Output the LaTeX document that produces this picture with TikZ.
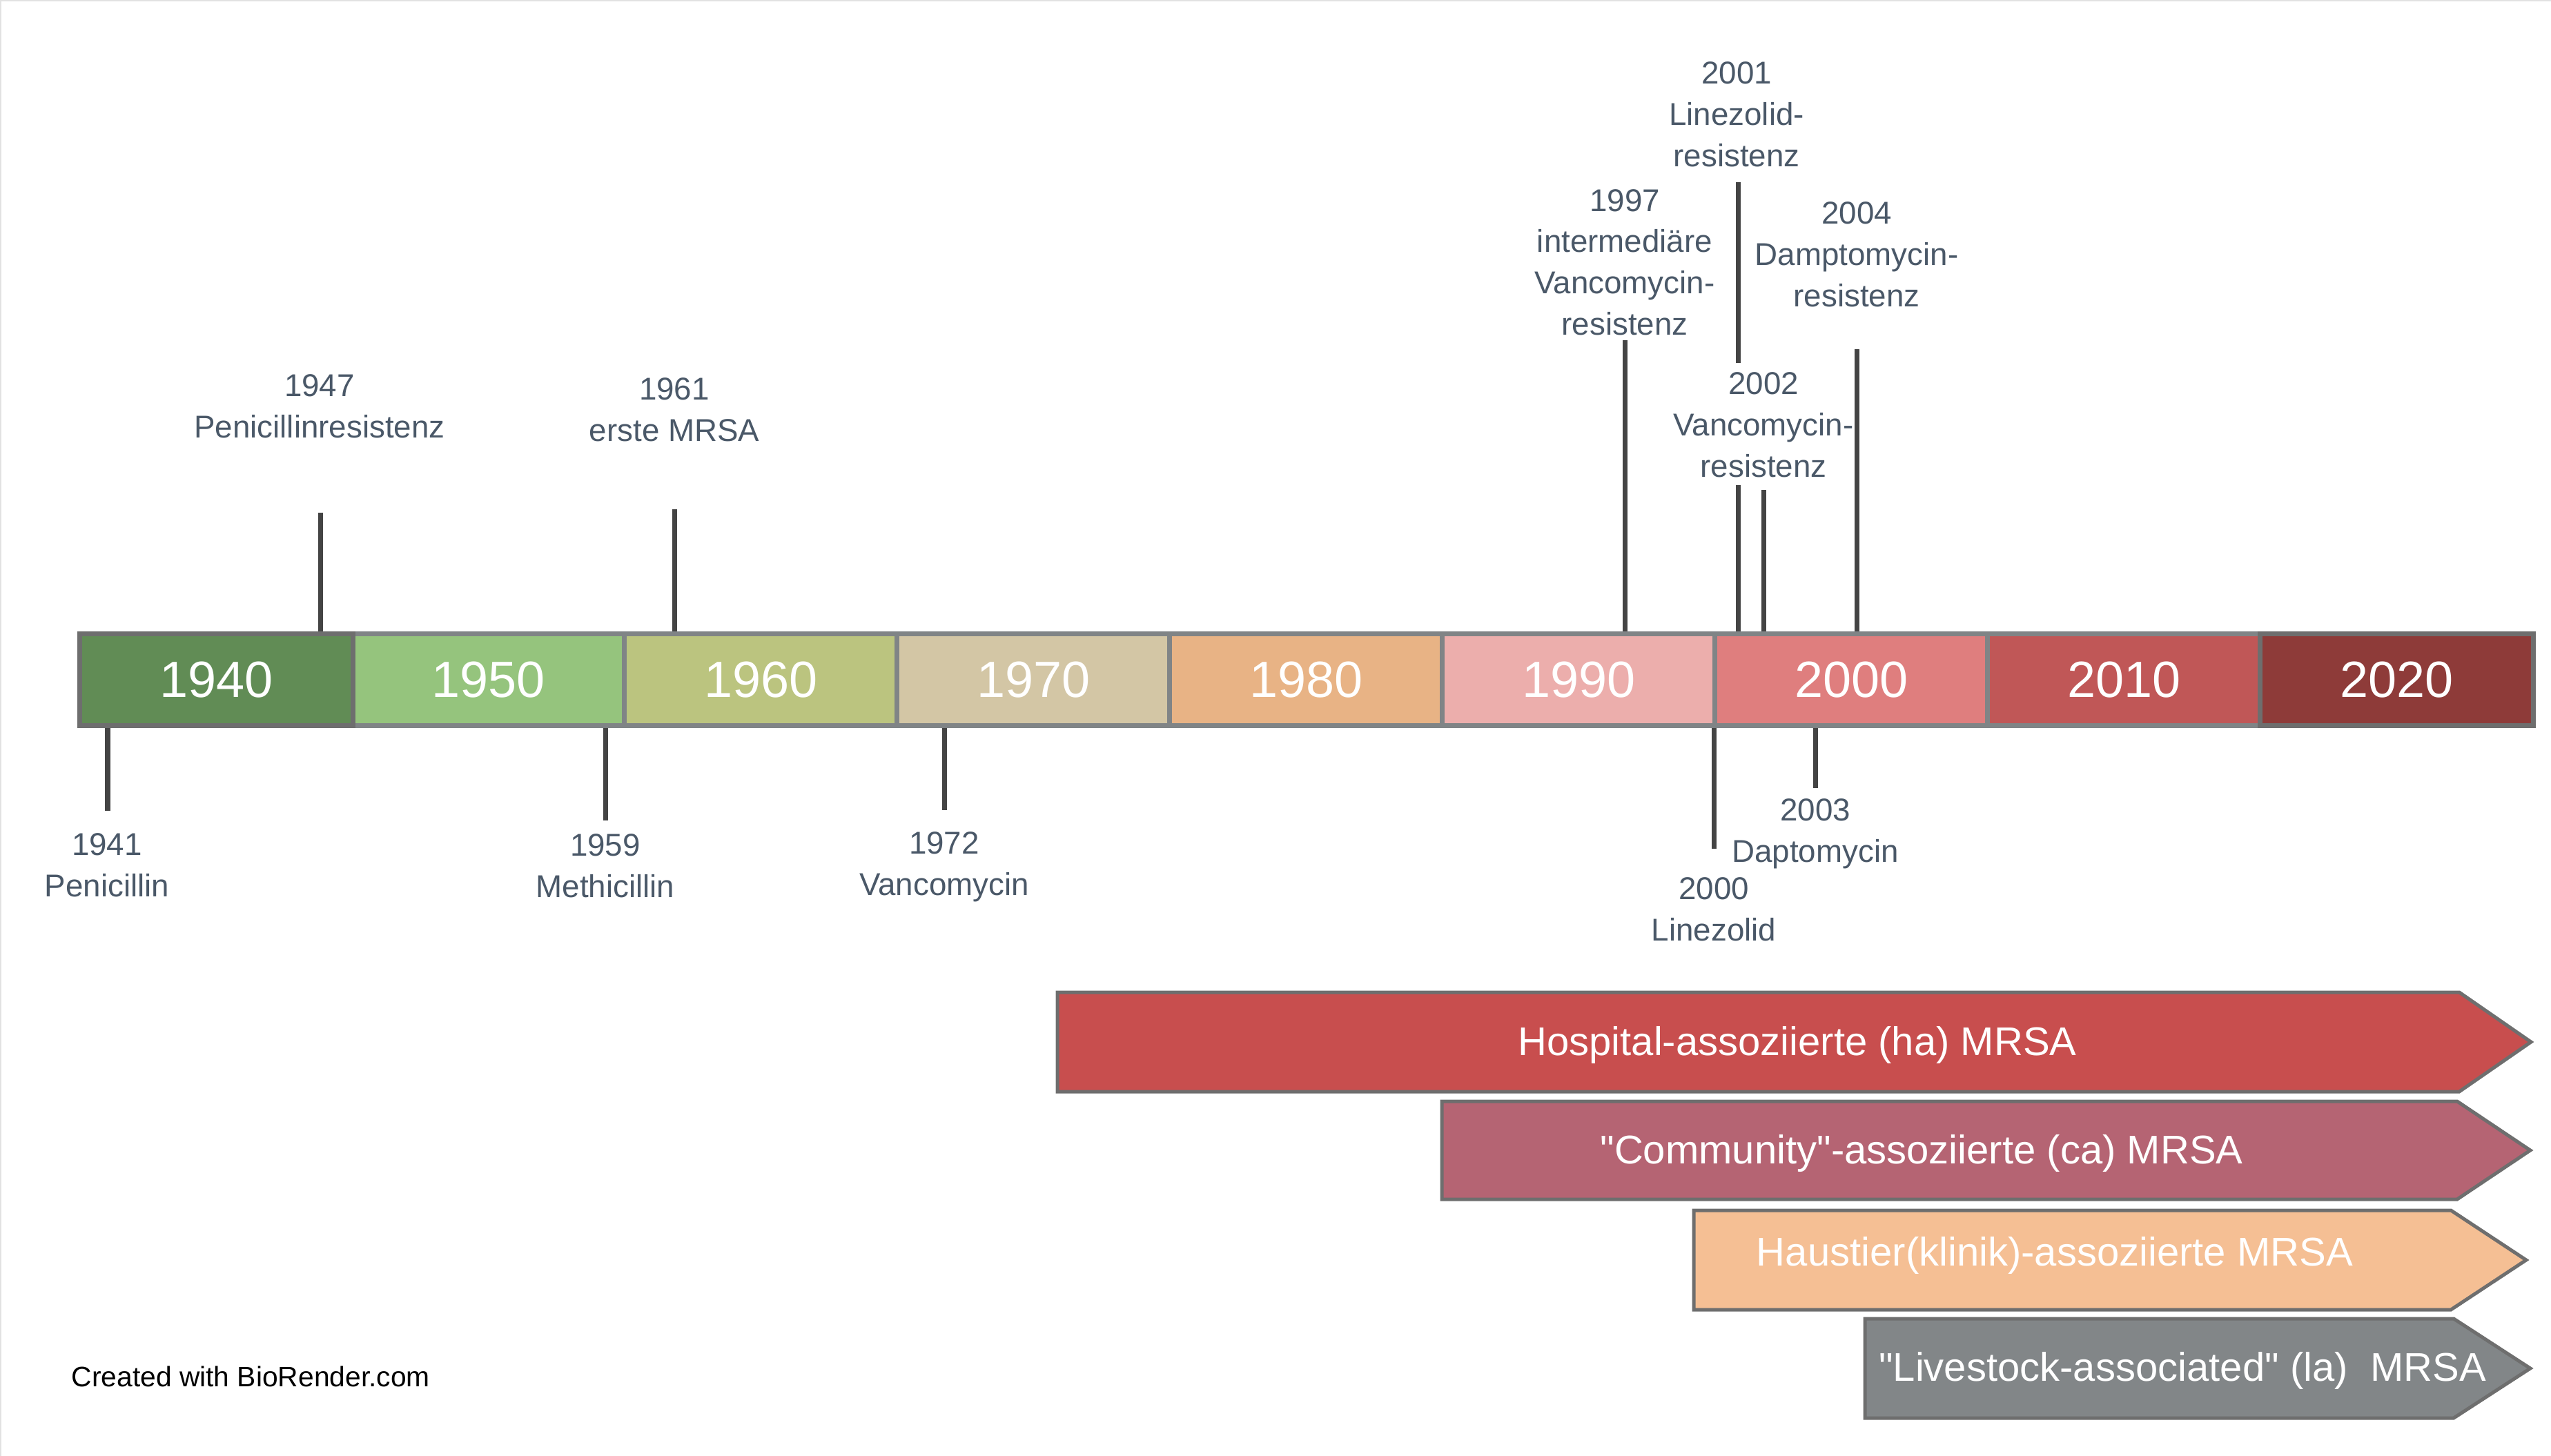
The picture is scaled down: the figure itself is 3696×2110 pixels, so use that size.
\documentclass[tikz,border=0pt]{standalone}
\usepackage{fontspec}
\setmainfont{Liberation Sans}[Ligatures=TeXOff]
\definecolor{c1940}{HTML}{618C55}
\definecolor{c1950}{HTML}{95C47D}
\definecolor{c1960}{HTML}{BBC47F}
\definecolor{c1970}{HTML}{D3C6A5}
\definecolor{c1980}{HTML}{E8B385}
\definecolor{c1990}{HTML}{ECAEAC}
\definecolor{c2000}{HTML}{DF7E7E}
\definecolor{c2010}{HTML}{C05757}
\definecolor{c2020}{HTML}{8E3B39}
\definecolor{segb}{HTML}{808486}
\definecolor{segd}{HTML}{6E6E6E}
\definecolor{tickc}{HTML}{444444}
\definecolor{labc}{HTML}{4A5868}
\definecolor{haC}{HTML}{C84E4E}
\definecolor{caC}{HTML}{B56473}
\definecolor{htC}{HTML}{F5BF94}
\definecolor{laC}{HTML}{828688}
\definecolor{framec}{HTML}{E2E2E2}
\tikzset{
  seg/.style={draw=segb, line width=0.07cm, minimum width=3.95cm, minimum height=1.33cm, inner sep=0pt, text=white, font=\fontsize{21}{21}\selectfont},
  lab/.style={text=labc, align=center, inner sep=0pt, font=\fontsize{13}{17}\selectfont},
  tickln/.style={draw=tickc, line width=0.07cm},
  arrowshape/.style={draw=segd, line width=0.05cm, line join=miter},
  arrowtext/.style={text=white, inner sep=0pt, font=\fontsize{16.5}{20}\selectfont}
}
\begin{document}
\begin{tikzpicture}[x=0.01cm,y=-0.01cm]
\useasboundingbox (0,0) rectangle (3696,2110);
\draw[framec, line width=0.02cm] (1,2110) -- (1,1) -- (3696,1);

% timeline segments
\foreach \yr/\col [count=\i from 0] in {1950/c1950,1960/c1960,1970/c1970,1980/c1980,1990/c1990,2000/c2000,2010/c2010}
  \node[seg, fill=\col] (s\yr) at ({707.5+395*\i},985) {\yr};
\node[seg, fill=c1940, draw=segd] (s1940) at (313.5,985) {1940};
\node[seg, fill=c2020, draw=segd] (s2020) at (3472.5,985) {2020};

% labels above
\node[lab] (l1947) at (463,589) {1947\\Penicillinresistenz};
\node[lab] (l1961) at (977,594) {1961\\erste MRSA};
\node[lab] (l1997) at (2354,380) {1997\\intermediäre\\Vancomycin-\\resistenz};
\node[lab] (l2001) at (2516,166) {2001\\Linezolid-\\resistenz};
\node[lab] (l2002) at (2555,616) {2002\\Vancomycin-\\resistenz};
\node[lab] (l2004) at (2690,369) {2004\\Damptomycin-\\resistenz};
% labels below
\node[lab] (l1941) at (155,1254) {1941\\Penicillin};
\node[lab] (l1959) at (877,1255) {1959\\Methicillin};
\node[lab] (l1972) at (1368,1256) {1972\\Vancomycin};
\node[lab] (l2000) at (2483,1318) {2000\\Linezolid};
\node[lab] (l2003) at (2630,1208) {2003\\Daptomycin};

% tick lines
\coordinate (t1947) at (464,743);
\coordinate (t1961) at (977,738);
\coordinate (t1997) at (2354,493);
\coordinate (t2001a) at (2518,264);
\coordinate (t2001b) at (2518,526);
\coordinate (t2001c) at (2518,703);
\coordinate (t2002) at (2555,710);
\coordinate (t2004) at (2690,506);
\coordinate (t1941) at (156,1175);
\coordinate (t1959) at (877,1189);
\coordinate (t1972) at (1368,1174);
\coordinate (t2000) at (2483,1230);
\coordinate (t2003) at (2630,1142);
\draw[tickln] (t1947) -- (t1947 |- s1940.north);
\draw[tickln] (t1961) -- (t1961 |- s1960.north);
\draw[tickln] (t1997) -- (t1997 |- s1990.north);
\draw[tickln] (t2001a) -- (t2001b);
\draw[tickln] (t2001c) -- (t2001c |- s2000.north);
\draw[tickln] (t2002) -- (t2002 |- s2000.north);
\draw[tickln] (t2004) -- (t2004 |- s2000.north);
\draw[tickln] (t1941) -- (t1941 |- s1940.south);
\draw[tickln] (t1959) -- (t1959 |- s1950.south);
\draw[tickln] (t1972) -- (t1972 |- s1970.south);
\draw[tickln] (t2000) -- (t2000 |- s1990.south);
\draw[tickln] (t2003) -- (t2003 |- s2000.south);

% MRSA arrows
\draw[arrowshape, fill=haC] (1532,1438) -- (3563,1438) -- (3667,1510) -- (3563,1582) -- (1532,1582) -- cycle;
\node[arrowtext] (ha) at (2604,1514) {Hospital-assoziierte (ha) MRSA};
\draw[arrowshape, fill=caC] (2089,1596) -- (3560,1596) -- (3666,1667) -- (3560,1738) -- (2089,1738) -- cycle;
\node[arrowtext] (ca) at (2784,1671) {"Community"-assoziierte (ca) MRSA};
\draw[arrowshape, fill=htC] (2454,1754) -- (3551,1754) -- (3660,1826) -- (3551,1898) -- (2454,1898) -- cycle;
\node[arrowtext] (ht) at (2977,1819) {Haustier(klinik)-assoziierte MRSA};
\draw[arrowshape, fill=laC] (2702,1911) -- (3555,1911) -- (3666,1983) -- (3555,2055) -- (2702,2055) -- cycle;
\node[arrowtext] (la) at (3162,1986) {"Livestock-associated" (la)\ \ MRSA};

\node[anchor=west, inner sep=0pt, font=\fontsize{11.6}{14}\selectfont] (bio) at (103,1995) {Created with BioRender.com};
\end{tikzpicture}
\end{document}
